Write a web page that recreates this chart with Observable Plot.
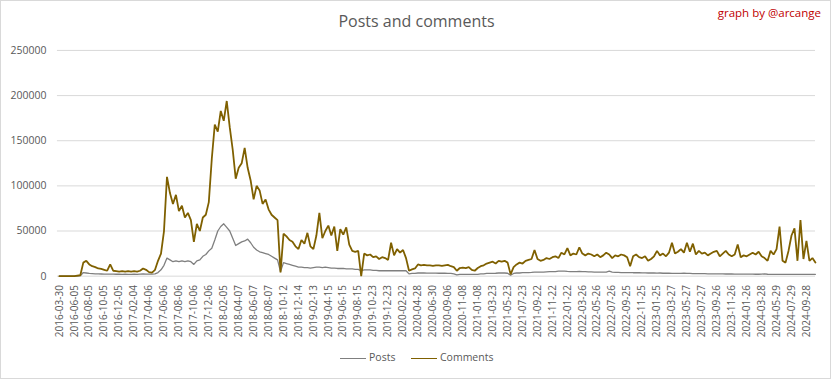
<!DOCTYPE html>
<html><head><meta charset="utf-8">
<script src="https://cdn.jsdelivr.net/npm/d3@7"></script>
<script src="https://cdn.jsdelivr.net/npm/@observablehq/plot@0.6"></script>
<style>
body{margin:0;background:#fff;font-family:"Open Sans",sans-serif;}
#chart{position:relative;width:831px;height:379px;box-sizing:border-box;border:1px solid #d9d9d9;overflow:hidden;background:#fff;}
#plot{position:absolute;left:-1px;top:-1px;}
#title{position:absolute;left:0;width:831px;top:12px;text-align:center;font-size:16px;line-height:16px;color:#595959;}
#credit{position:absolute;right:9px;top:6px;font-size:11.5px;line-height:11.5px;color:#c00000;}
.lg-line{position:absolute;height:1.5px;width:26px;top:356.5px;}
.lg-text{position:absolute;top:351px;font-size:10.5px;line-height:10.5px;color:#595959;}
</style></head><body>
<div id="chart">
  <div id="plot"></div>
  <div id="title">Posts and comments</div>
  <div id="credit">graph by @arcange</div>
  <div class="lg-line" style="left:339px;background:#7f7f7f"></div>
  <div class="lg-text" style="left:368px">Posts</div>
  <div class="lg-line" style="left:410px;background:#7f6000"></div>
  <div class="lg-text" style="left:439px">Comments</div>
</div>
<script>
const tickLabels = ["2016-03-30","2016-06-05","2016-08-05","2016-10-05","2016-12-05","2017-02-04","2017-04-06","2017-06-06","2017-08-06","2017-10-06","2017-12-06","2018-02-05","2018-04-07","2018-06-07","2018-08-07","2018-10-12","2018-12-14","2019-02-13","2019-04-15","2019-06-15","2019-08-15","2019-10-23","2019-12-23","2020-02-22","2020-04-28","2020-06-30","2020-09-06","2020-11-08","2021-01-08","2021-03-23","2021-05-23","2021-07-23","2021-09-22","2021-11-22","2022-01-22","2022-03-26","2022-05-26","2022-07-26","2022-09-25","2022-11-25","2023-01-25","2023-03-27","2023-05-27","2023-07-27","2023-09-26","2023-11-26","2024-01-26","2024-03-28","2024-05-29","2024-07-29","2024-09-28"];
const daysPerLabel = 61;   // categories between two labels
const daysPerSample = 61/5; // categories between two samples below

// values in thousands
const comments = [
0,0,0,0,0,0,0.5,1,
15,17,13,11,10,8.5,8,7,6,13,6,5.5,
5,5.5,5,5.5,5,5.5,5,6,8.5,7,4.5,4,
7,17,25,50,110,92,80,90,72,78,65,70,62,38,58,50,65,68,
82,130,168,160,183,172,194,165,140,108,120,125,142,120,106,85,100,95,80,85,74,68,65,62,
4,47,44,40,38,33,30,40,36,48,33,30,45,70,42,50,56,45,55,28,52,46,54,35,28,27,28,
0,25,23,24,21,22,19,21,20,18,37,23,30,26,29,20,6,7.5,8.5,
13,12,12.5,12,12,11.5,12,12,11.5,12,12.5,11,10,6,9,9.5,9,10,7,6,9,
11,12,14,15,16,14,17,16,17,15,2,10,13,15,14,17,18,19,29,19,
17,18,20,19,21,22,20,26,24,31,23,25,24,32,25,23,25,24,22,24,
21,23,26,24,20,23,22,24,23,21,11,22,24,21,20,22,17,19,22,28,
23,25,22,26,37,25,27,30,26,37,27,36,24,28,25,26,23,25,27,28,
22,25,28,24,22,24,35,21,23,22,24,26,24,27,22,20,17,28,24,30,
55,17,15,28,45,53,17,62,19,39,17,20,15
];
const posts = [
0,0,0,0,0,0,0,0.5,
4,3.5,3,2.8,2.6,2.5,2.4,2.3,2.2,2.3,2.2,2.1,
2.1,2,2.1,2,2,2.1,2,2.2,2.4,2.3,2.2,2.3,
2.6,4,7,12,20,18,16,17,16,17,16,17,16,13,17,18,22,24,
28,31,40,50,55,58,54,50,42,34,36,38,39,41,37,32,29,27,26,25,24,22,20,18,
5,15,14,13,12,11,10,10,9.5,9.5,9,9.5,10,10,9.5,10,9.5,9,9,8.5,8.5,8.5,8,8,8,7.5,7.5,
6,7,7,7,6.5,6.5,6,6,6,6,6,6,6,6,6,6,2.5,3,3,
3.5,3.5,3.5,3.4,3.4,3.3,3.3,3.2,3.2,3.2,3,3,2.5,1.5,2,2,2,2,2,2,2,
2.5,2.5,3,3,3,3.2,3.5,3.5,3.5,3.2,1,3,3.5,3.5,3.8,4,4,4.2,4.5,4.5,
4.5,4.5,4.8,5,5,5,5.5,5.5,5.5,5.2,5,5,5,5.2,5,5,4.8,4.8,4.5,4.5,
4.5,4.5,4.5,5.5,4.5,4.2,4.2,4,4,4,4,3.8,3.8,3.8,3.6,3.6,3.5,3.5,3.5,3.3,
3.5,3.2,3.2,3.3,3,3,3,3,3.2,3,3,2.8,2.8,2.8,2.8,2.8,2.6,2.6,2.6,2.5,
2.5,2.5,2.4,2.4,2.4,2.3,2.3,2.3,2.2,2.2,2.2,2.2,2.1,2.1,2.2,2.6,2.1,2,2,2,
2,2,2,2,2,2,2,2,2,2,2,2,2
];
const yTicks = [0,50,100,150,200,250];

const postRows = posts.map((v,i)=>({idx:i*daysPerSample, value:v}));
const commentRows = comments.map((v,i)=>({idx:i*daysPerSample, value:v}));
const xTicks = tickLabels.map((_,i)=>i*daysPerLabel);

const chart = Plot.plot({
  width:831, height:340,
  marginLeft:57, marginRight:15, marginTop:50, marginBottom:64,
  style:{fontFamily:"Open Sans", fontSize:"10px", color:"#595959", background:"transparent", overflow:"visible"},
  x:{type:"linear", domain:[-8,3087], label:null},
  y:{domain:[0,250], label:null},
  marks:[
    Plot.gridY(yTicks,{stroke:"#d9d9d9", strokeOpacity:1, strokeWidth:1}),
    Plot.axisY(yTicks,{tickSize:0, tickPadding:11, tickFormat:d=>String(d*1000), label:null, fontSize:10.5}),
    Plot.axisX(xTicks,{tickSize:0, tickRotate:-90, tickPadding:9, tickFormat:d=>tickLabels[Math.round(d/daysPerLabel)], label:null, fontSize:10}),
    Plot.line(postRows,{x:"idx", y:"value", stroke:"#7f7f7f", strokeWidth:1.3}),
    Plot.line(commentRows,{x:"idx", y:"value", stroke:"#7f6000", strokeWidth:1.8, strokeLinejoin:"miter"})
  ]
});
document.getElementById("plot").appendChild(chart);
</script>
</body></html>
